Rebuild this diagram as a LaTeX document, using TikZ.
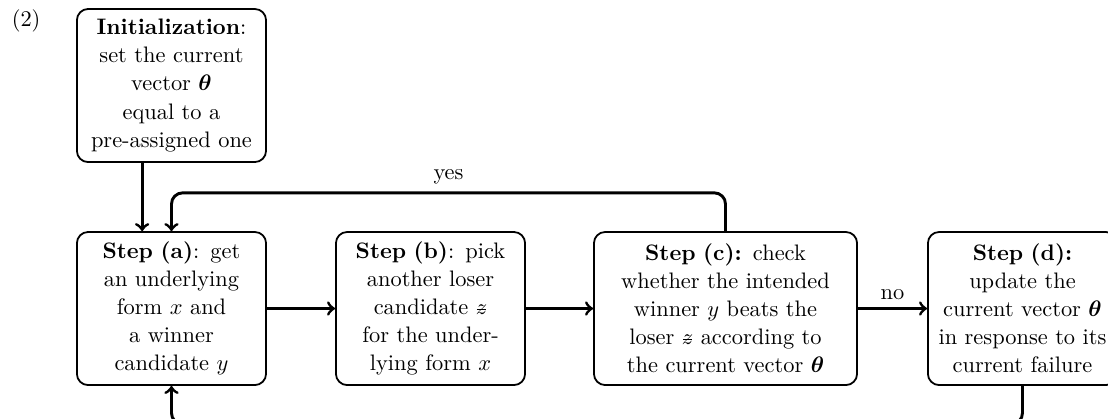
\documentclass[tikz,border=0pt]{standalone}
\usepackage{amsfonts, amssymb, amsmath}
\usepackage{tikz}
\usetikzlibrary{arrows}
\tikzset{box/.style={draw,thick,rounded corners=5pt,align=center,inner sep=4.2pt,text width=76pt,minimum height=68.3pt}}
\tikzset{wbox/.style={box,text width=109pt}}
\tikzset{a/.style={line width=1.3pt,->}}
\newcommand{\zstr}{\ooalign{$z$\cr\hidewidth\rule[0.5ex]{0.42em}{0.4pt}\hidewidth\cr}}

\begin{document}
\begin{tikzpicture}[line join=round]
          \useasboundingbox (0,0) rectangle (17.375,-6.570);
          \begin{scope}[font=\fontsize{10}{12.5}\selectfont]
          \node (num) at (0.41,-0.33) {(2)};
          \node[box] (init) at (2.689,-1.341) {\textbf{Initialization}:\\ set the current\\ vector $\boldsymbol{\theta}$\\ equal to a\\ pre-assigned one};
          \node[box] (sa) at (2.689,-4.838) {\textbf{Step (a)}: get\\ an underlying\\ form $x$ and\\ a winner\\ candidate $y$};
          \node[box] (sb) at (6.751,-4.838) {\textbf{Step (b)}: pick\\ another loser\\ candidate \zstr\\ for the under-\\ lying form $x$}
            edge [a, <-] (sa);
          \node[wbox] (sc) at (11.377,-4.838) {\textbf{Step (c):} check\\ whether the intended\\ winner $y$ beats the\\ loser \zstr\ according to\\ the current vector $\boldsymbol{\theta}$}
            edge [a, <-] (sb);
          \node[box, anchor=west] (sd) at (14.537,-4.838) {\textbf{Step (d):}\\ update the\\ current vector $\boldsymbol{\theta}$\\ in response to its\\ current failure}
            edge [a, <-] node [above] {no} (sc);
          \draw[a] ([xshift=-0.46cm]init.south) -- ([xshift=-0.46cm]sa.north);
          \draw[a, rounded corners=5pt] (sc.north) -- ++(0,0.6) -| node [pos=0.25, above] {yes} (sa.north);
          \draw[a, rounded corners=5pt] (sd.south) -- ++(0,-0.6) -| (sa.south);
          \end{scope}
        \end{tikzpicture}
\end{document}
